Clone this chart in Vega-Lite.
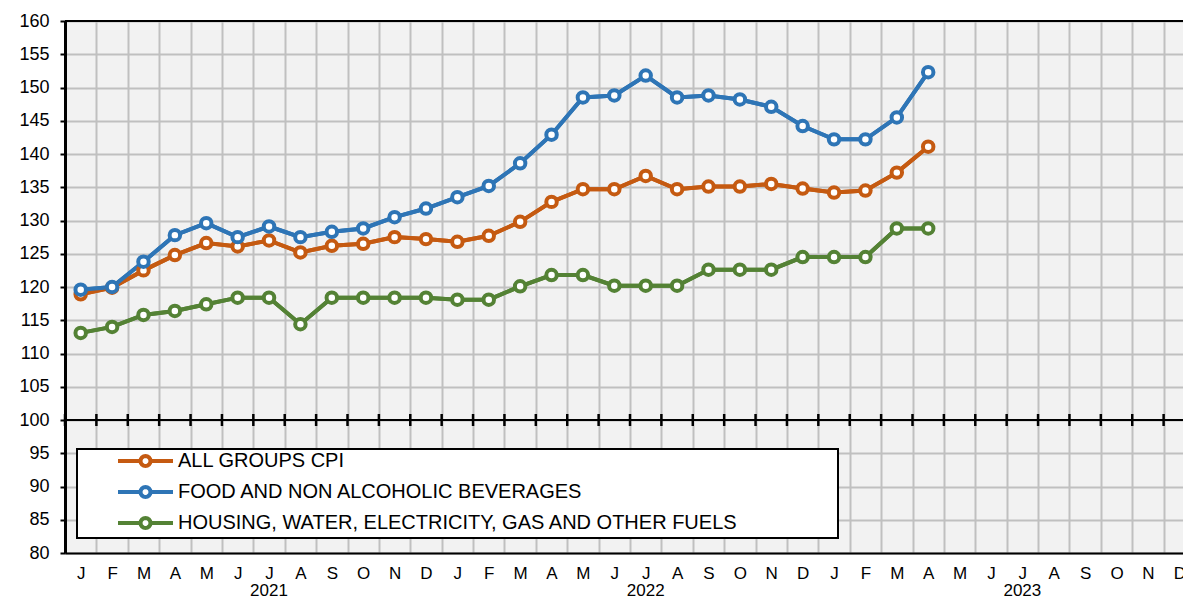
{
  "$schema": "https://vega.github.io/schema/vega-lite/v6.json",
  "width": 1118,
  "height": 532,
  "autosize": "none",
  "padding": {"left": 65, "top": 21, "right": 0, "bottom": 45},
  "background": "white",
  "config": {
    "font": "Liberation Sans",
    "view": {"stroke": null, "fill": "#f2f2f2"},
    "axis": {"labelColor": "black", "labelFontSize": 17, "labelFont": "Liberation Sans", "gridColor": "#c0c0c0", "gridWidth": 2, "gridOpacity": 1, "title": null},
    "axisY": {"labelOverlap": false, "labelFontSize": 18, "labelPadding": 11, "labelBound": false, "labelFlush": false}
  },
  "datasets": {
    "cpi": [
      {"m": "2021-01", "series": "ALL GROUPS CPI", "v": 118.9},
      {"m": "2021-02", "series": "ALL GROUPS CPI", "v": 119.9},
      {"m": "2021-03", "series": "ALL GROUPS CPI", "v": 122.5},
      {"m": "2021-04", "series": "ALL GROUPS CPI", "v": 124.8},
      {"m": "2021-05", "series": "ALL GROUPS CPI", "v": 126.6},
      {"m": "2021-06", "series": "ALL GROUPS CPI", "v": 126.1},
      {"m": "2021-07", "series": "ALL GROUPS CPI", "v": 127.0},
      {"m": "2021-08", "series": "ALL GROUPS CPI", "v": 125.2},
      {"m": "2021-09", "series": "ALL GROUPS CPI", "v": 126.2},
      {"m": "2021-10", "series": "ALL GROUPS CPI", "v": 126.5},
      {"m": "2021-11", "series": "ALL GROUPS CPI", "v": 127.5},
      {"m": "2021-12", "series": "ALL GROUPS CPI", "v": 127.2},
      {"m": "2022-01", "series": "ALL GROUPS CPI", "v": 126.8},
      {"m": "2022-02", "series": "ALL GROUPS CPI", "v": 127.7},
      {"m": "2022-03", "series": "ALL GROUPS CPI", "v": 129.8},
      {"m": "2022-04", "series": "ALL GROUPS CPI", "v": 132.8},
      {"m": "2022-05", "series": "ALL GROUPS CPI", "v": 134.7},
      {"m": "2022-06", "series": "ALL GROUPS CPI", "v": 134.7},
      {"m": "2022-07", "series": "ALL GROUPS CPI", "v": 136.7},
      {"m": "2022-08", "series": "ALL GROUPS CPI", "v": 134.7},
      {"m": "2022-09", "series": "ALL GROUPS CPI", "v": 135.1},
      {"m": "2022-10", "series": "ALL GROUPS CPI", "v": 135.1},
      {"m": "2022-11", "series": "ALL GROUPS CPI", "v": 135.5},
      {"m": "2022-12", "series": "ALL GROUPS CPI", "v": 134.8},
      {"m": "2023-01", "series": "ALL GROUPS CPI", "v": 134.2},
      {"m": "2023-02", "series": "ALL GROUPS CPI", "v": 134.5},
      {"m": "2023-03", "series": "ALL GROUPS CPI", "v": 137.2},
      {"m": "2023-04", "series": "ALL GROUPS CPI", "v": 141.1},
      {"m": "2021-01", "series": "FOOD AND NON ALCOHOLIC BEVERAGES", "v": 119.6},
      {"m": "2021-02", "series": "FOOD AND NON ALCOHOLIC BEVERAGES", "v": 120.0},
      {"m": "2021-03", "series": "FOOD AND NON ALCOHOLIC BEVERAGES", "v": 123.8},
      {"m": "2021-04", "series": "FOOD AND NON ALCOHOLIC BEVERAGES", "v": 127.8},
      {"m": "2021-05", "series": "FOOD AND NON ALCOHOLIC BEVERAGES", "v": 129.6},
      {"m": "2021-06", "series": "FOOD AND NON ALCOHOLIC BEVERAGES", "v": 127.5},
      {"m": "2021-07", "series": "FOOD AND NON ALCOHOLIC BEVERAGES", "v": 129.1},
      {"m": "2021-08", "series": "FOOD AND NON ALCOHOLIC BEVERAGES", "v": 127.5},
      {"m": "2021-09", "series": "FOOD AND NON ALCOHOLIC BEVERAGES", "v": 128.3},
      {"m": "2021-10", "series": "FOOD AND NON ALCOHOLIC BEVERAGES", "v": 128.8},
      {"m": "2021-11", "series": "FOOD AND NON ALCOHOLIC BEVERAGES", "v": 130.5},
      {"m": "2021-12", "series": "FOOD AND NON ALCOHOLIC BEVERAGES", "v": 131.8},
      {"m": "2022-01", "series": "FOOD AND NON ALCOHOLIC BEVERAGES", "v": 133.5},
      {"m": "2022-02", "series": "FOOD AND NON ALCOHOLIC BEVERAGES", "v": 135.2},
      {"m": "2022-03", "series": "FOOD AND NON ALCOHOLIC BEVERAGES", "v": 138.6},
      {"m": "2022-04", "series": "FOOD AND NON ALCOHOLIC BEVERAGES", "v": 142.9},
      {"m": "2022-05", "series": "FOOD AND NON ALCOHOLIC BEVERAGES", "v": 148.5},
      {"m": "2022-06", "series": "FOOD AND NON ALCOHOLIC BEVERAGES", "v": 148.8},
      {"m": "2022-07", "series": "FOOD AND NON ALCOHOLIC BEVERAGES", "v": 151.8},
      {"m": "2022-08", "series": "FOOD AND NON ALCOHOLIC BEVERAGES", "v": 148.5},
      {"m": "2022-09", "series": "FOOD AND NON ALCOHOLIC BEVERAGES", "v": 148.8},
      {"m": "2022-10", "series": "FOOD AND NON ALCOHOLIC BEVERAGES", "v": 148.2},
      {"m": "2022-11", "series": "FOOD AND NON ALCOHOLIC BEVERAGES", "v": 147.1},
      {"m": "2022-12", "series": "FOOD AND NON ALCOHOLIC BEVERAGES", "v": 144.2},
      {"m": "2023-01", "series": "FOOD AND NON ALCOHOLIC BEVERAGES", "v": 142.2},
      {"m": "2023-02", "series": "FOOD AND NON ALCOHOLIC BEVERAGES", "v": 142.2},
      {"m": "2023-03", "series": "FOOD AND NON ALCOHOLIC BEVERAGES", "v": 145.5},
      {"m": "2023-04", "series": "FOOD AND NON ALCOHOLIC BEVERAGES", "v": 152.3},
      {"m": "2021-01", "series": "HOUSING, WATER, ELECTRICITY, GAS AND OTHER FUELS", "v": 113.1},
      {"m": "2021-02", "series": "HOUSING, WATER, ELECTRICITY, GAS AND OTHER FUELS", "v": 114.0},
      {"m": "2021-03", "series": "HOUSING, WATER, ELECTRICITY, GAS AND OTHER FUELS", "v": 115.8},
      {"m": "2021-04", "series": "HOUSING, WATER, ELECTRICITY, GAS AND OTHER FUELS", "v": 116.4},
      {"m": "2021-05", "series": "HOUSING, WATER, ELECTRICITY, GAS AND OTHER FUELS", "v": 117.4},
      {"m": "2021-06", "series": "HOUSING, WATER, ELECTRICITY, GAS AND OTHER FUELS", "v": 118.4},
      {"m": "2021-07", "series": "HOUSING, WATER, ELECTRICITY, GAS AND OTHER FUELS", "v": 118.4},
      {"m": "2021-08", "series": "HOUSING, WATER, ELECTRICITY, GAS AND OTHER FUELS", "v": 114.4},
      {"m": "2021-09", "series": "HOUSING, WATER, ELECTRICITY, GAS AND OTHER FUELS", "v": 118.4},
      {"m": "2021-10", "series": "HOUSING, WATER, ELECTRICITY, GAS AND OTHER FUELS", "v": 118.4},
      {"m": "2021-11", "series": "HOUSING, WATER, ELECTRICITY, GAS AND OTHER FUELS", "v": 118.4},
      {"m": "2021-12", "series": "HOUSING, WATER, ELECTRICITY, GAS AND OTHER FUELS", "v": 118.4},
      {"m": "2022-01", "series": "HOUSING, WATER, ELECTRICITY, GAS AND OTHER FUELS", "v": 118.1},
      {"m": "2022-02", "series": "HOUSING, WATER, ELECTRICITY, GAS AND OTHER FUELS", "v": 118.1},
      {"m": "2022-03", "series": "HOUSING, WATER, ELECTRICITY, GAS AND OTHER FUELS", "v": 120.1},
      {"m": "2022-04", "series": "HOUSING, WATER, ELECTRICITY, GAS AND OTHER FUELS", "v": 121.8},
      {"m": "2022-05", "series": "HOUSING, WATER, ELECTRICITY, GAS AND OTHER FUELS", "v": 121.8},
      {"m": "2022-06", "series": "HOUSING, WATER, ELECTRICITY, GAS AND OTHER FUELS", "v": 120.2},
      {"m": "2022-07", "series": "HOUSING, WATER, ELECTRICITY, GAS AND OTHER FUELS", "v": 120.2},
      {"m": "2022-08", "series": "HOUSING, WATER, ELECTRICITY, GAS AND OTHER FUELS", "v": 120.2},
      {"m": "2022-09", "series": "HOUSING, WATER, ELECTRICITY, GAS AND OTHER FUELS", "v": 122.6},
      {"m": "2022-10", "series": "HOUSING, WATER, ELECTRICITY, GAS AND OTHER FUELS", "v": 122.6},
      {"m": "2022-11", "series": "HOUSING, WATER, ELECTRICITY, GAS AND OTHER FUELS", "v": 122.6},
      {"m": "2022-12", "series": "HOUSING, WATER, ELECTRICITY, GAS AND OTHER FUELS", "v": 124.5},
      {"m": "2023-01", "series": "HOUSING, WATER, ELECTRICITY, GAS AND OTHER FUELS", "v": 124.5},
      {"m": "2023-02", "series": "HOUSING, WATER, ELECTRICITY, GAS AND OTHER FUELS", "v": 124.5},
      {"m": "2023-03", "series": "HOUSING, WATER, ELECTRICITY, GAS AND OTHER FUELS", "v": 128.8},
      {"m": "2023-04", "series": "HOUSING, WATER, ELECTRICITY, GAS AND OTHER FUELS", "v": 128.8}
    ],
    "months": [
      {"m": "2021-01"}, {"m": "2021-02"}, {"m": "2021-03"}, {"m": "2021-04"}, {"m": "2021-05"}, {"m": "2021-06"},
      {"m": "2021-07"}, {"m": "2021-08"}, {"m": "2021-09"}, {"m": "2021-10"}, {"m": "2021-11"}, {"m": "2021-12"},
      {"m": "2022-01"}, {"m": "2022-02"}, {"m": "2022-03"}, {"m": "2022-04"}, {"m": "2022-05"}, {"m": "2022-06"},
      {"m": "2022-07"}, {"m": "2022-08"}, {"m": "2022-09"}, {"m": "2022-10"}, {"m": "2022-11"}, {"m": "2022-12"},
      {"m": "2023-01"}, {"m": "2023-02"}, {"m": "2023-03"}, {"m": "2023-04"}, {"m": "2023-05"}, {"m": "2023-06"},
      {"m": "2023-07"}, {"m": "2023-08"}, {"m": "2023-09"}, {"m": "2023-10"}, {"m": "2023-11"}, {"m": "2023-12"}
    ],
    "one": [{"k": 1}]
  },
  "resolve": {"axis": {"x": "independent"}},
  "layer": [
    {
      "data": {"name": "cpi"},
      "mark": {"type": "line", "strokeWidth": 4},
      "encoding": {
        "x": {"field": "m", "type": "ordinal", "axis": {"orient": "bottom", "values": ["2021-07", "2022-07", "2023-07"], "bandPosition": 0, "labelExpr": "substring(datum.value,0,4)", "domain": false, "ticks": false, "grid": false, "labelPadding": 29, "labelAngle": 0, "labelFontSize": 17, "labelFont": "Liberation Sans", "labelColor": "black"}},
        "y": {"field": "v", "type": "quantitative",
          "scale": {"domain": [80, 160], "nice": false, "zero": false},
          "axis": {"values": [80,85,90,95,100,105,110,115,120,125,130,135,140,145,150,155,160], "labelOverlap": false, "labelFontSize": 18, "labelFont": "Liberation Sans", "labelColor": "black", "domainColor": "black", "domainWidth": 3, "tickColor": "black", "tickWidth": 2, "tickSize": 5, "labelPadding": 11, "grid": true, "gridColor": "#c0c0c0", "gridWidth": 2}},
        "stroke": {"field": "series", "type": "nominal",
          "scale": {"domain": ["ALL GROUPS CPI", "FOOD AND NON ALCOHOLIC BEVERAGES", "HOUSING, WATER, ELECTRICITY, GAS AND OTHER FUELS"], "range": ["#c55a11", "#2e75b6", "#548235"]},
          "legend": {"orient": "none", "legendX": 12, "legendY": 428, "title": " ", "titleOrient": "right", "titlePadding": 98, "titleFontSize": 1, "direction": "vertical",
            "fillColor": "white", "strokeColor": "black", "padding": 2,
            "labelFont": "Liberation Sans", "labelFontSize": 20, "labelColor": "black", "labelLimit": 1000, "labelOffset": 79,
            "symbolType": "M7.25,0H12.875M15.375,0H21M15.375,0L15.28,0.478L15.009,0.884L14.603,1.155L14.125,1.25L13.647,1.155L13.241,0.884L12.97,0.478L12.875,0L12.97,-0.478L13.241,-0.884L13.647,-1.155L14.125,-1.25L14.603,-1.155L15.009,-0.884L15.28,-0.478Z",
            "symbolSize": 64, "symbolStrokeWidth": 4, "symbolOpacity": 1, "rowPadding": 5,
            "encode": {"symbols": {"update": {"fill": {"value": "white"}, "strokeWidth": {"value": 4}}}, "legend": {"update": {"strokeWidth": {"value": 2}}}}}},
        "order": {"field": "series"}
      }
    },
    {
      "data": {"name": "one"},
      "mark": {"type": "rule", "color": "black", "strokeWidth": 2},
      "encoding": {"y": {"datum": 100, "type": "quantitative", "axis": {"values": [80,85,90,95,100,105,110,115,120,125,130,135,140,145,150,155,160], "labelOverlap": false}}}
    },
    {
      "data": {"name": "one"},
      "mark": {"type": "rule", "color": "black", "strokeWidth": 2},
      "encoding": {"y": {"datum": 160, "type": "quantitative", "axis": {"values": [80,85,90,95,100,105,110,115,120,125,130,135,140,145,150,155,160], "labelOverlap": false}}}
    },
    {
      "data": {"name": "months"},
      "mark": {"type": "tick", "orient": "vertical", "size": 12, "thickness": 2.5, "color": "black", "opacity": 1},
      "encoding": {
        "x": {"field": "m", "type": "ordinal", "bandPosition": 0,
          "scale": {"type": "band", "range": [0, 1130], "paddingInner": 0, "paddingOuter": 0},
          "axis": {"orient": "bottom", "grid": true, "tickBand": "extent", "ticks": false, "domainColor": "black", "domainWidth": 2, "labelPadding": 12, "labelAngle": 0, "labelFontSize": 17, "labelFont": "Liberation Sans", "labelColor": "black", "gridColor": "#c0c0c0", "gridWidth": 2,
            "labelExpr": "['J','F','M','A','M','J','J','A','S','O','N','D'][toNumber(substring(datum.value,5,7))-1]"}},
        "y": {"datum": 100, "type": "quantitative", "axis": {"values": [80,85,90,95,100,105,110,115,120,125,130,135,140,145,150,155,160], "labelOverlap": false}}
      }
    },
    {
      "data": {"name": "cpi"},
      "mark": {"type": "line", "strokeWidth": 4},
      "encoding": {
        "x": {"field": "m", "type": "ordinal", "axis": null},
        "y": {"field": "v", "type": "quantitative", "axis": {"values": [80,85,90,95,100,105,110,115,120,125,130,135,140,145,150,155,160], "labelOverlap": false}},
        "stroke": {"field": "series", "type": "nominal"},
        "order": {"field": "series"}
      }
    },
    {
      "data": {"name": "cpi"},
      "mark": {"type": "point", "shape": "circle", "filled": true, "fill": "white", "size": 110, "strokeWidth": 4, "opacity": 1},
      "encoding": {
        "x": {"field": "m", "type": "ordinal", "axis": null},
        "y": {"field": "v", "type": "quantitative", "axis": {"values": [80,85,90,95,100,105,110,115,120,125,130,135,140,145,150,155,160], "labelOverlap": false}},
        "stroke": {"field": "series", "type": "nominal"}
      }
    }
  ]
}
